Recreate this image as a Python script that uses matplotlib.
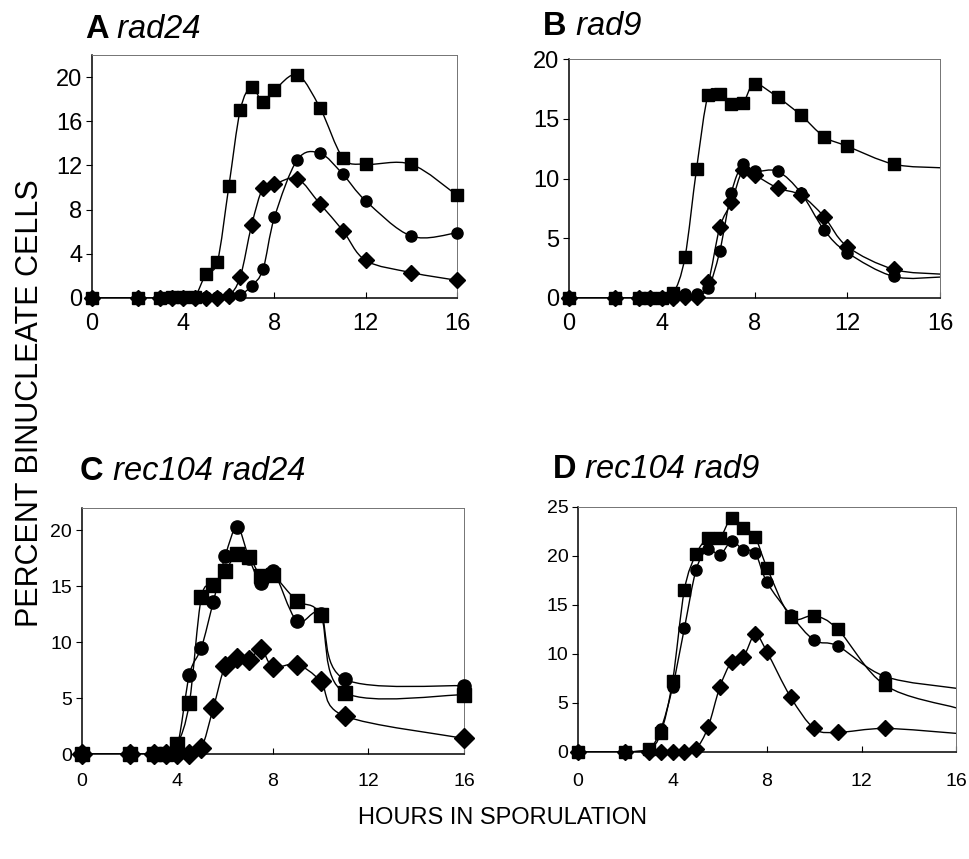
import matplotlib
matplotlib.use('Agg')
import matplotlib.pyplot as plt
from matplotlib.path import Path
from matplotlib.patches import PathPatch
import numpy as np

plt.rcParams['font.family'] = ['Liberation Sans', 'DejaVu Sans']

# 데이터 (hours, percent binucleate cells)
xA = [0, 2, 3, 3.5, 4, 4.5, 5, 5.5, 6, 6.5, 7, 7.5, 8, 9, 10, 11, 12, 14, 16]
sqA = [0, 0, 0, 0.1, 0.1, 0.1, 2.2, 3.3, 10.1, 17.0, 19.1, 17.7, 18.8, 20.2, 17.2, 12.7, 12.1, 12.1, 9.3]
ciA = [0, 0, 0, 0, 0, 0, 0.1, 0.1, 0.2, 0.3, 1.1, 2.6, 7.3, 12.5, 13.1, 11.2, 8.8, 5.6, 5.9]
diA = [0, 0, 0, 0, 0, 0, 0, 0, 0.2, 1.9, 6.6, 10.0, 10.3, 10.8, 8.5, 6.1, 3.4, 2.3, 1.6]

xB = [0, 2, 3, 3.5, 4, 4.5, 5, 5.5, 6, 6.5, 7, 7.5, 8, 9, 10, 11, 12, 14]
sqB = [0, 0, 0, 0, 0, 0.4, 3.4, 10.8, 17.0, 17.1, 16.2, 16.3, 17.9, 16.8, 15.3, 13.5, 12.7, 11.2]
ciB = [0, 0, 0, 0, 0, 0, 0.3, 0.3, 0.8, 3.9, 8.8, 11.2, 10.6, 10.6, 8.8, 5.7, 3.8, 1.8]
diB = [0, 0, 0, 0, 0, 0, 0.1, 0.1, 1.3, 5.9, 8.0, 10.7, 10.3, 9.2, 8.6, 6.8, 4.3, 2.4]
endB = {'sq': 10.9, 'ci': 1.75, 'di': 2.0}   # line continues to 16 h, no marker

xC = [0, 2, 3, 3.5, 4, 4.5, 5, 5.5, 6, 6.5, 7, 7.5, 8, 9, 10, 11, 16]
sqC = [0, 0, 0, 0, 0.9, 4.6, 14.0, 15.1, 16.4, 17.9, 17.6, 15.9, 16.0, 13.7, 12.4, 5.5, 5.3]
ciC = [0, 0, 0, 0, 0.8, 7.1, 9.5, 13.6, 17.7, 20.3, 17.5, 15.3, 16.4, 11.9, 12.5, 6.7, 6.1]
diC = [0, 0, 0, 0, 0, 0, 0.5, 4.1, 7.9, 8.6, 8.4, 9.4, 7.8, 8.0, 6.5, 3.4, 1.4]

xD = [0, 2, 3, 3.5, 4, 4.5, 5, 5.5, 6, 6.5, 7, 7.5, 8, 9, 10, 11, 13]
sqD = [0, 0, 0.35, 1.9, 7.2, 16.5, 20.2, 21.8, 21.8, 23.9, 22.9, 21.9, 18.8, 13.8, 13.9, 12.5, 6.8]
ciD = [0, 0, 0.35, 2.3, 6.6, 12.6, 18.6, 20.7, 20.1, 21.5, 20.6, 20.3, 17.3, 14.0, 11.4, 10.8, 7.7]
diD = [0, 0, 0, 0, 0, 0, 0.35, 2.5, 6.6, 9.2, 9.7, 12.0, 10.2, 5.6, 2.4, 2.0, 2.4]
endD = {'sq': 4.5, 'ci': 6.5, 'di': 1.9}

x_end = 16
x_ticks = [0, 4, 8, 12, 16]


def smooth_path(x, y):
    # Excel-style smoothed line (Catmull-Rom as cubic Bezier)
    p = np.column_stack([x, y]).astype(float)
    q = np.vstack([p[0], p, p[-1]])
    verts = [p[0]]
    codes = [Path.MOVETO]
    for i in range(1, len(q) - 2):
        c1 = q[i] + (q[i + 1] - q[i - 1]) / 6
        c2 = q[i + 1] - (q[i + 2] - q[i]) / 6
        verts += [c1, c2, q[i + 1]]
        codes += [Path.CURVE4] * 3
    return Path(verts, codes)


def series(ax, x, y, marker, ms, end=None):
    lx, ly = list(x), list(y)
    if end is not None:
        lx.append(x_end)
        ly.append(end)
    ax.add_patch(PathPatch(smooth_path(lx, ly), fill=False, color='black', lw=1.0))
    ax.plot(x, y, ls='none', marker=marker, ms=ms, color='black', clip_on=False, zorder=3)


fig = plt.figure(figsize=(9.7, 8.59), dpi=100)

# rect, ymax, yticks, letter, gene, data, marker sizes (sq, ci, di), tick font, title pos
panels = [
    ([0.0948, 0.6531, 0.3763, 0.2829], 22, [0, 4, 8, 12, 16, 20], 'A', 'rad24',
     xA, sqA, ciA, diA, None, (8.5, 8, 8.5), 17, (0.0876, 0.9558), 11),
    ([0.5866, 0.6531, 0.3825, 0.2782], 20, [0, 5, 10, 15, 20], 'B', 'rad9',
     xB, sqB, ciB, diB, endB, (9, 8, 8.5), 17, (0.5598, 0.9593), 11),
    ([0.0845, 0.1222, 0.3938, 0.2864], 22, [0, 5, 10, 15, 20], 'C', 'rec104 rad24',
     xC, sqC, ciC, diC, None, (10, 9.5, 10), 14, (0.0825, 0.4412), 14),
    ([0.5959, 0.1246, 0.3897, 0.2852], 25, [0, 5, 10, 15, 20, 25], 'D', 'rec104 rad9',
     xD, sqD, ciD, diD, endD, (9, 8, 8.5), 14, (0.570, 0.4435), 15),
]

for (rect, ytop, yt, letter, gene, x, sq, ci, di, end, ms, tfs, tpos, xpad) in panels:
    ax = fig.add_axes(rect)
    e = end or {}
    series(ax, x, di, 'D', ms[2], e.get('di'))
    series(ax, x, ci, 'o', ms[1], e.get('ci'))
    series(ax, x, sq, 's', ms[0], e.get('sq'))
    ax.set_xlim(0, 16)
    ax.set_ylim(0, ytop)
    ax.set_xticks(x_ticks)
    ax.set_yticks(yt)
    ax.tick_params(axis='x', direction='in', length=4, pad=xpad, labelsize=tfs)
    ax.tick_params(axis='y', direction='out', length=4, pad=3, labelsize=tfs)
    for s in ['top', 'right']:
        ax.spines[s].set_color('0.45')
        ax.spines[s].set_linewidth(0.7)
    for s in ['left', 'bottom']:
        ax.spines[s].set_linewidth(1.1)
    # 패널 제목: bold letter + italic genotype
    t = fig.text(tpos[0], tpos[1], letter, fontsize=23.5, fontweight='bold',
                 ha='left', va='baseline')
    ax.annotate(' ' + gene, xy=(1, 0), xycoords=t, fontsize=23.5, style='italic',
                ha='left', va='bottom', annotation_clip=False)

fig.text(0.518, 0.048, 'HOURS IN SPORULATION', fontsize=17, ha='center', va='center')
fig.text(0.031, 0.531, 'PERCENT BINUCLEATE CELLS', fontsize=22, rotation=90,
         ha='center', va='center')

plt.savefig('out.png', dpi=100)
